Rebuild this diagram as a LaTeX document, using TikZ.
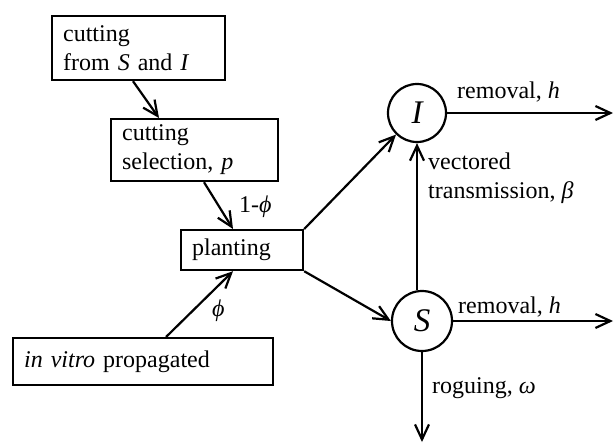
\documentclass[tikz,border=0pt]{standalone}
\usepackage{fontspec}
\setmainfont{Liberation Serif}
\usetikzlibrary{arrows.meta}
\begin{document}
\begin{tikzpicture}[x=1pt,y=-1pt,
  font=\fontsize{24}{29}\selectfont,
  every node/.style={inner sep=0pt},
  box/.style={draw, line width=2.2pt, anchor=north west, align=left, inner xsep=11pt, inner ysep=0pt},
  circ/.style={draw, circle, line width=2.2pt, minimum size=58pt, font=\fontsize{33}{33}\selectfont\itshape},
  arr/.style={line width=2.2pt, -{Straight Barb[length=15pt,width=14pt,line width=2.2pt]}},
  lbl/.style={anchor=base west, align=left}]
\useasboundingbox (0,0) rectangle (614,445);
% boxes
\node[box, text width=151pt, minimum height=64pt] (b1) at (51,15) {cutting\\from \textit{S} and \textit{I}};
\node[box, text width=145pt, minimum height=62pt] (b2) at (110,118) {cutting\\selection, \textit{p}};
\node[box, text width=100pt, minimum height=40pt] (pl) at (180,229) {planting};
\node[box, text width=238pt, minimum height=47pt] (iv) at (12,337) {\textit{in vitro} propagated};
% circles
\node[circ] (I) at (417,113) {I};
\node[circ, minimum size=60pt] (S) at (422,321) {S};
% free ends
\coordinate (Iend) at (613,113);
\coordinate (Send) at (613,321);
\coordinate (Rend) at (422,442);
% connectors
\draw[arr] ([xshift=82pt]b1.south west) -- ([xshift=49pt]b2.north west);
\draw[arr] ([xshift=94pt]b2.south west) -- ([xshift=53pt]pl.north west);
\draw[arr] ([xshift=154pt]iv.north west) -- ([xshift=53pt]pl.south west);
\draw[arr] (pl.north east) -- (I);
\draw[arr] (pl.south east) -- (S.west);
\draw[arr] ([xshift=-5pt]S.north) -- (I.south);
\draw[arr] (I.east) -- (Iend);
\draw[arr] (S.east) -- (Send);
\draw[arr] (S.south) -- (Rend);
% labels
\node[lbl] (l1) at (239,212) {1-\textit{ϕ}};
\node[lbl] (l2) at (212,316) {\textit{ϕ}};
\node[lbl] (l3) at (457,98) {removal, \textit{h}};
\node[lbl] (l4) at (458,313) {removal, \textit{h}};
\node[lbl] (l5) at (432,393) {roguing, \textit{ω}};
\node[lbl] (l6) at (428,198) {vectored\\transmission, \textit{β}};
\end{tikzpicture}
\end{document}
